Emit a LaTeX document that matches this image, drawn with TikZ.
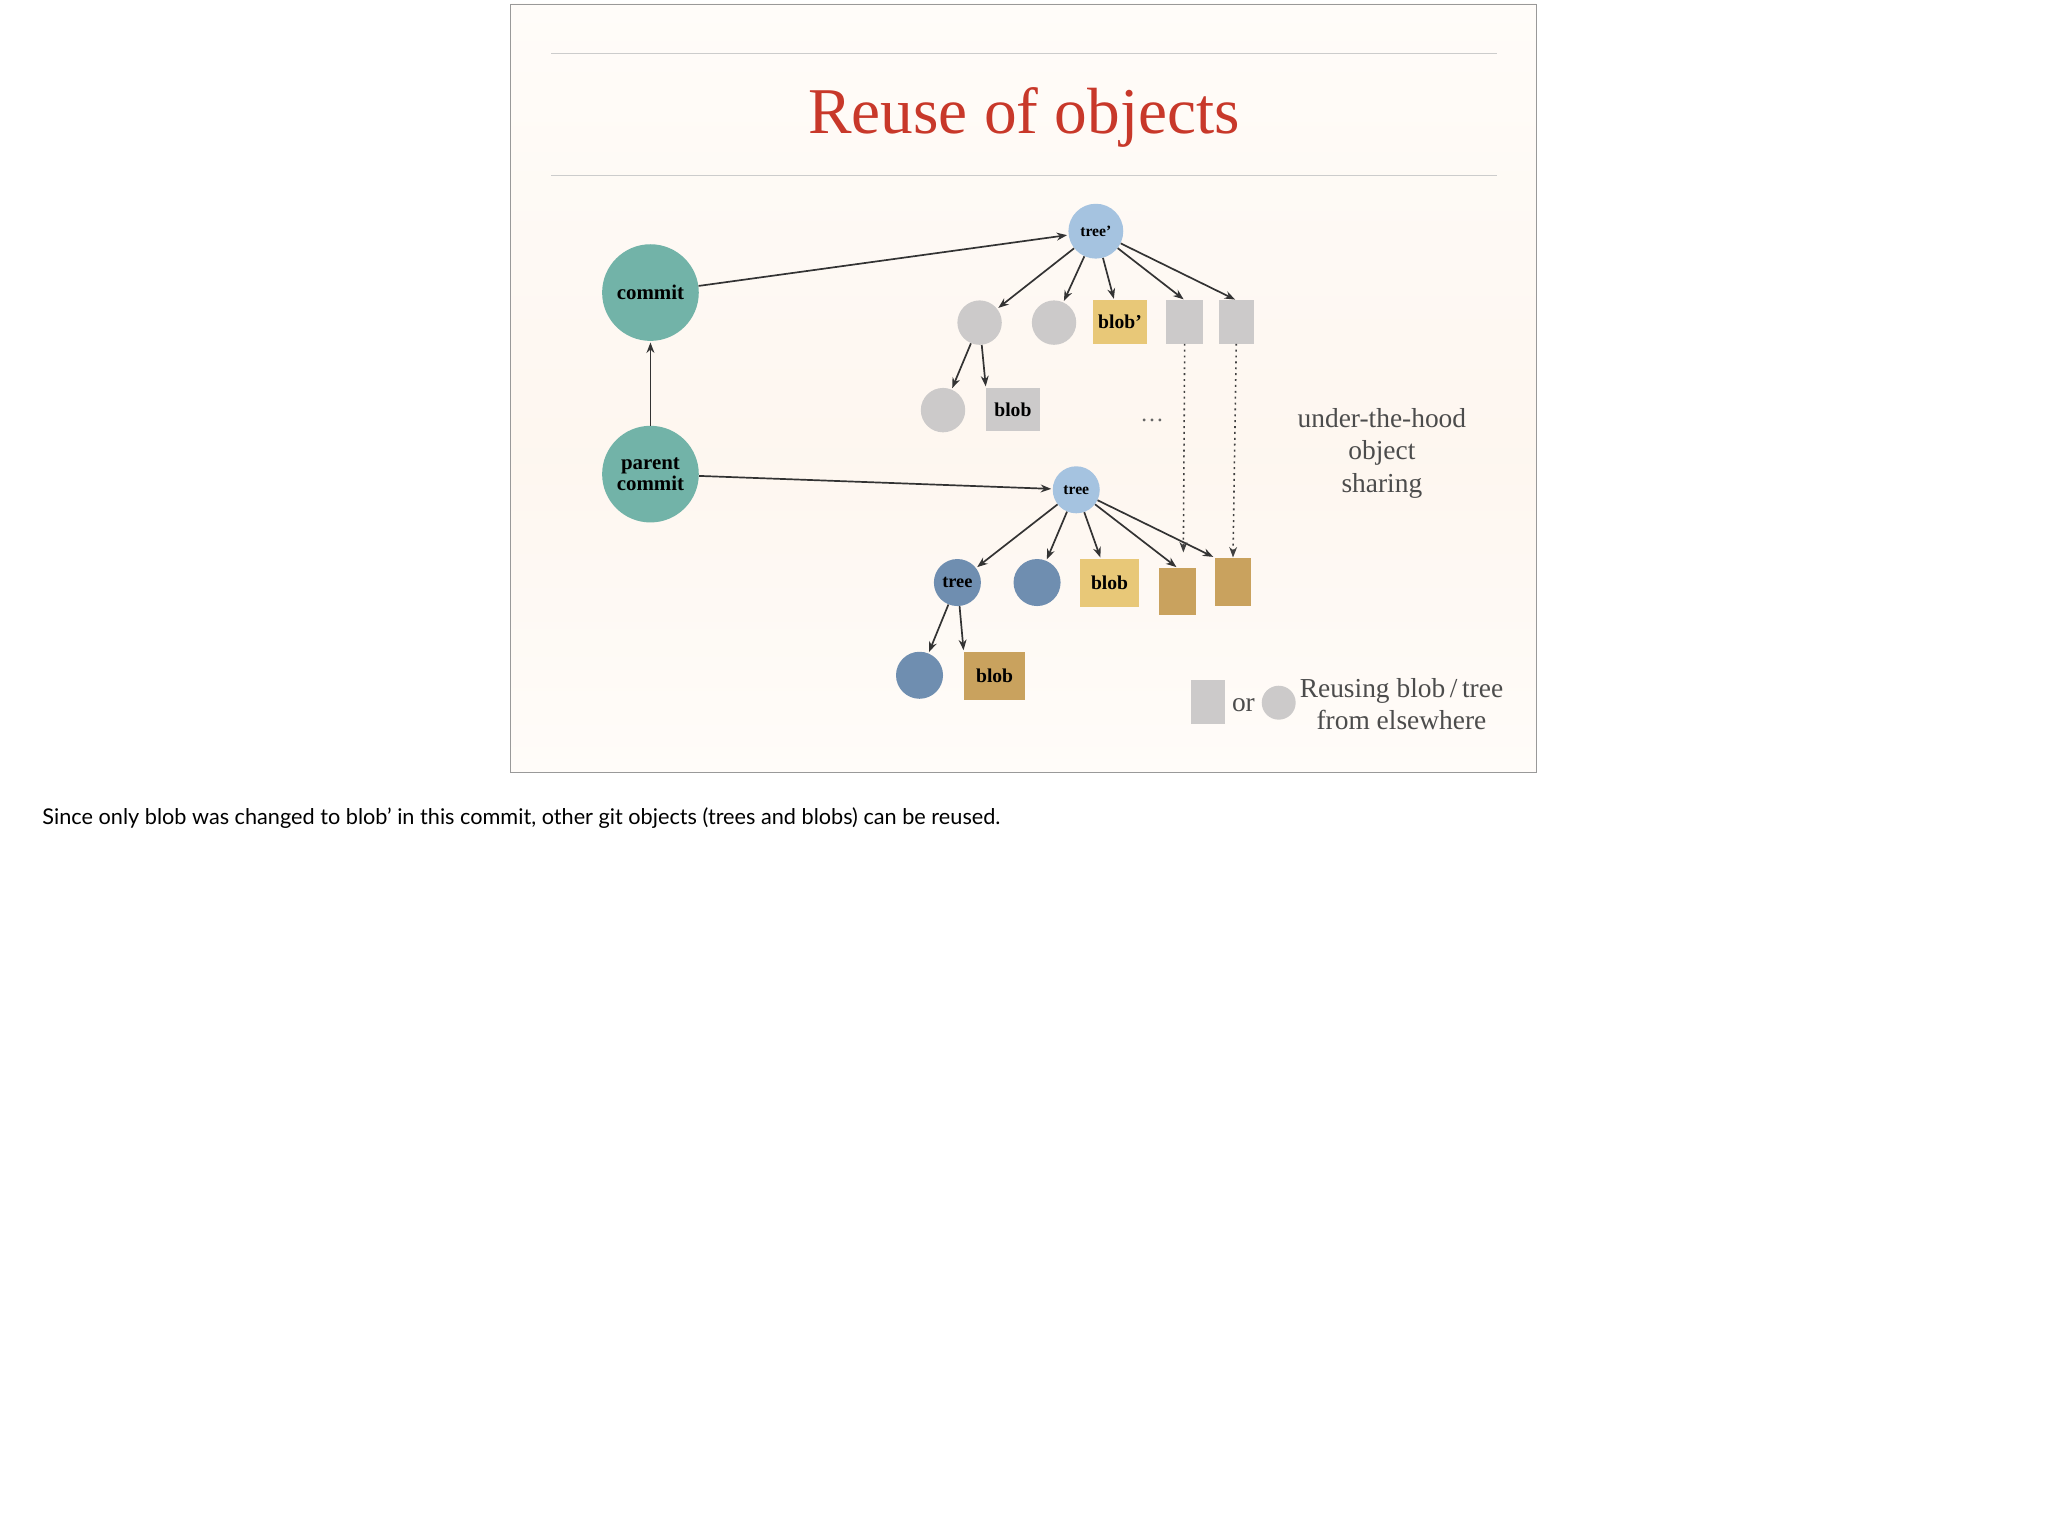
\documentclass[tikz,border=0pt]{standalone}
\usepackage{fontspec}
\setmainfont{Liberation Serif}
\newfontfamily\capfont{Lato}
\usetikzlibrary{arrows.meta}
\definecolor{teal1}{HTML}{72B3A8}
\definecolor{lblue}{HTML}{A5C3E0}
\definecolor{dblue}{HTML}{6F8EB0}
\definecolor{ygold}{HTML}{E8C878}
\definecolor{dgold}{HTML}{C9A25E}
\definecolor{lgray}{HTML}{CCCACA}
\definecolor{titlered}{HTML}{C8382A}
\tikzset{
 cnode/.style={circle,inner sep=0pt,minimum size=#1,font=\bfseries\fontsize{16}{18}\selectfont},
 rnode/.style={rectangle,inner sep=0pt,font=\bfseries\fontsize{15}{17}\selectfont},
 arr/.style={-{Stealth[length=8pt,width=6pt]},line width=1.3pt,draw=black!80,shorten >=1pt},
 dots/.style={-{Stealth[length=8pt,width=6pt]},line width=1.2pt,dash pattern=on 1.5pt off 3pt,draw=black!75},
 side/.style={font=\fontsize{21}{25}\selectfont,text=black!70,align=center}
}
\begin{document}
\begin{tikzpicture}[x=1pt,y=-1pt]
\useasboundingbox (0,0) rectangle (1568,1169.1);
\fill[white] (0,0) rectangle (1568,1169.1);
\shade[top color=white!40!orange!4,bottom color=black!10!orange!6] (391,3) rectangle (1176,350);
\shade[top color=black!10!orange!6,bottom color=white!40!orange!4] (391,350) rectangle (1176,591);
\draw[black!40] (391,3) rectangle (1176,591);
\draw[black!20] (422,41) -- (1146,41) (422,134) -- (1146,134);
\node[text=titlered,font=\fontsize{50}{60}\selectfont] (title) at (784,90) {Reuse of objects};
\node[cnode=74pt,fill=teal1] (commit) at (498,224) {commit};
\node[cnode=74pt,fill=teal1,align=center] (parent) at (498,363) {parent\\[-2pt]commit};
\node[cnode=42pt,fill=lblue,font=\bfseries\fontsize{12}{14}\selectfont] (treep) at (839,177) {tree\textquoteright};
\node[cnode=34pt,fill=lgray] (g1) at (750,247) {};
\node[cnode=34pt,fill=lgray] (g2) at (807,247) {};
\node[rnode,fill=ygold,minimum width=41pt,minimum height=33pt] (blobp) at (857.5,246.5) {blob\textquoteright};
\node[rnode,fill=lgray,minimum width=28pt,minimum height=33pt] (s1) at (907,246.5) {};
\node[rnode,fill=lgray,minimum width=27pt,minimum height=33pt] (s2) at (946.5,246.5) {};
\node[cnode=34pt,fill=lgray] (g3) at (722,314) {};
\node[rnode,fill=lgray,minimum width=41pt,minimum height=33pt] (blobg) at (775.5,313.5) {blob};
\node[text=black!60,font=\fontsize{18}{20}\selectfont] (ell) at (882,322) {\dots};
\node[cnode=36pt,fill=lblue,font=\bfseries\fontsize{12}{14}\selectfont] (tree) at (824,375) {tree};
\node[cnode=36pt,fill=dblue,font=\bfseries\fontsize{14}{16}\selectfont] (tree2) at (733,446) {tree};
\node[cnode=36pt,fill=dblue] (d1) at (794,446) {};
\node[rnode,fill=ygold,minimum width=45pt,minimum height=37pt] (bloby) at (849.5,446.5) {blob};
\node[rnode,fill=dgold,minimum width=29pt,minimum height=36pt] (o1) at (901.5,453) {};
\node[rnode,fill=dgold,minimum width=28pt,minimum height=37pt] (o2) at (944,445.5) {};
\node[cnode=36pt,fill=dblue] (d2) at (704,517) {};
\node[rnode,fill=dgold,minimum width=47pt,minimum height=37pt] (blobd) at (761.5,517.5) {blob};
\node[side] (uth) at (1058,347) {under-the-hood\\object\\sharing};
\node[rnode,fill=lgray,minimum width=26pt,minimum height=33pt] (ls) at (925,537.5) {};
\node[side] (or) at (952,540) {or};
\node[cnode=26pt,fill=lgray] (lc) at (979,538) {};
\node[side] (leg) at (1073,539) {Reusing blob\,/\,tree\\from elsewhere};
\node[anchor=west,font=\capfont\fontsize{16.6}{19}\selectfont] (cap) at (29,626) {Since only blob was changed to blob\textquoteright{} in this commit, other git objects (trees and blobs) can be reused.};
\draw[arr] (commit) -- (treep);
\draw[arr] (parent) -- (commit);
\draw[arr] (parent) -- (tree);
\draw[arr] (treep) -- (g1);
\draw[arr] (treep) -- (g2);
\draw[arr] (treep) -- (blobp);
\draw[arr] (treep) -- (s1.north);
\draw[arr] (treep) -- (s2.north);
\draw[arr] (g1) -- (g3);
\draw[arr] (g1) -- (blobg.north west);
\draw[arr] (tree) -- (tree2);
\draw[arr] (tree) -- (d1);
\draw[arr] (tree) -- (bloby);
\draw[arr] (tree) -- (o1.north);
\draw[arr] (tree) -- (o2.north west);
\draw[arr] (tree2) -- (d2);
\draw[arr] (tree2) -- (blobd.north west);
\draw[dots] (s1.south) -- (906,423);
\draw[dots] (s2.south) -- (o2.north);
\end{tikzpicture}
\end{document}
